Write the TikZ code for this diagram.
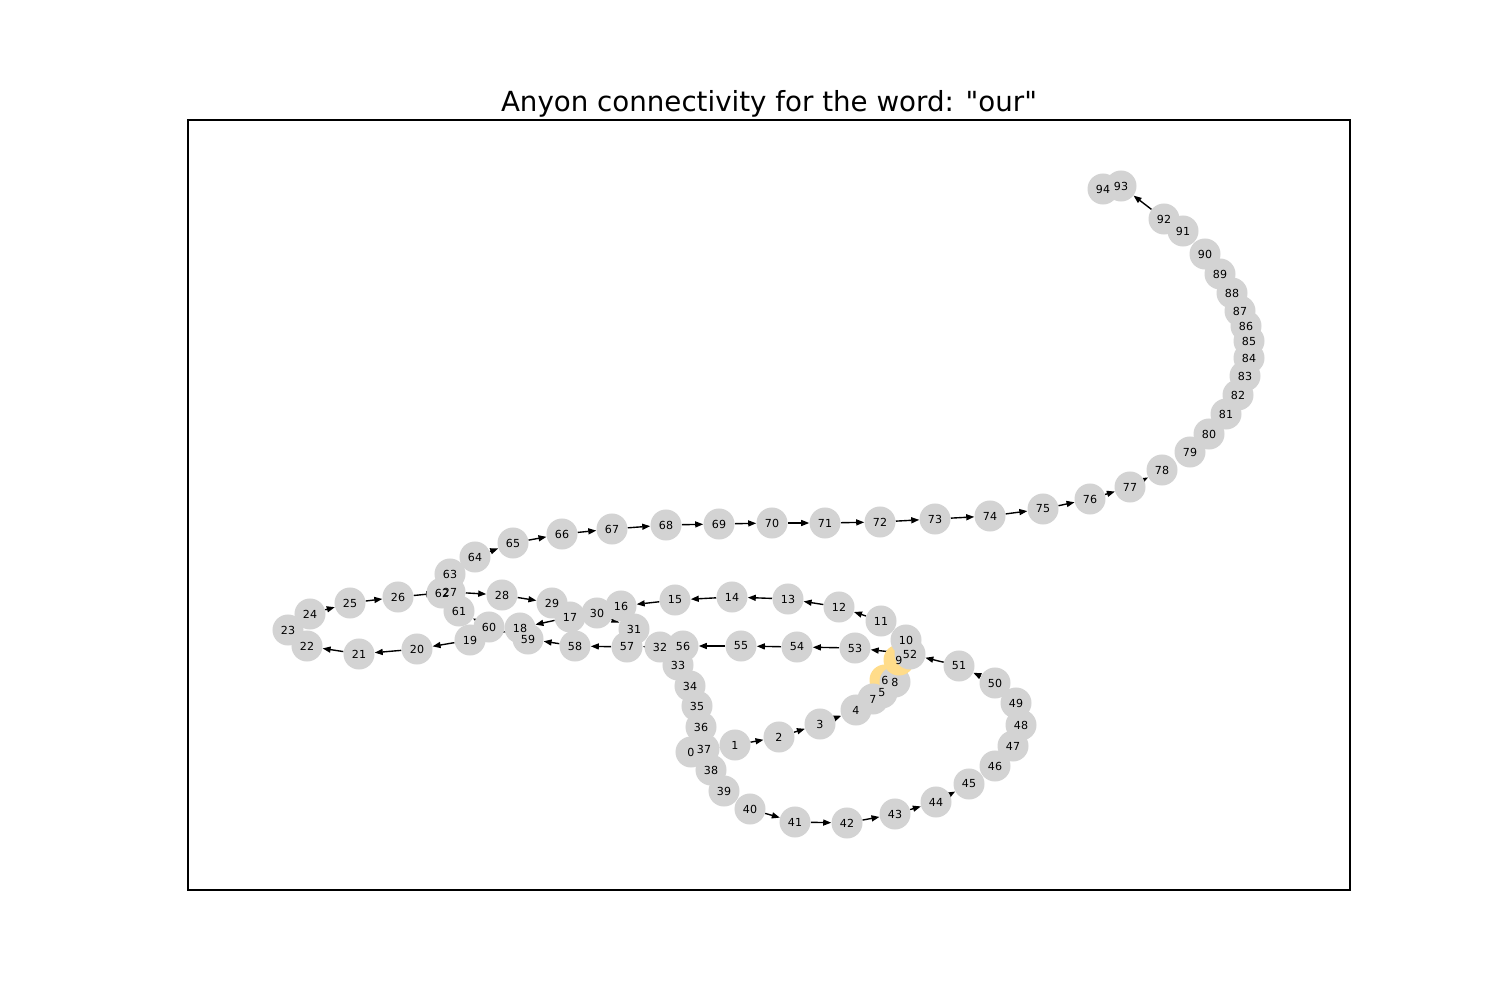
\documentclass[tikz,border=0pt]{standalone}
\usepackage{fontspec}
\setmainfont{DejaVu Sans}[Ligatures=TeXOff]
\usetikzlibrary{arrows.meta,backgrounds}
\definecolor{nodegray}{RGB}{211,211,211}
\definecolor{nodeyellow}{RGB}{255,220,138}
\tikzset{
  gnode/.style={circle,fill=nodegray,draw=none,inner sep=0pt,minimum size=0.31in},
  ynode/.style={gnode,fill=nodeyellow},
  lab/.style={inner sep=0pt,font=\fontsize{8}{9.6}\selectfont},
  edge/.style={line width=1pt,-{Triangle[length=0.08in,width=0.06in]}},
}
\begin{document}
\begin{tikzpicture}[x=0.01in,y=-0.01in]
\useasboundingbox (0,0) rectangle (1500,1000);
\node[anchor=base] (title) at (769,112) {\fontsize{20}{24}\selectfont Anyon connectivity for the word: "our"};
\draw[line width=0.8pt] (188,120) rectangle (1350,890);
% nodes in index order (6 and 9 highlighted)
\foreach \i/\x/\y in {0/691/752,1/735/745,2/779/737,3/820/724,4/856/710,5/882/693,6/885/680,7/873/699,8/895/682,9/899/660,
10/906/640,11/881/621,12/839/607,13/788/599,14/732/597,15/675/600,16/621/606,17/570/617,18/520/628,19/470/640,
20/417/649,21/359/654,22/307/646,23/288/630,24/310/614,25/350/603,26/398/597,27/450/592,28/502/595,29/552/603,
30/597/613,31/634/629,32/660/647,33/678/665,34/690/686,35/697/706,36/701/727,37/704/749,38/711/770,39/724/791,
40/750/809,41/795/822,42/847/823,43/895/814,44/936/802,45/969/784,46/995/766,47/1013/746,48/1021/725,49/1016/703,
50/995/683,51/959/666,52/910/654,53/855/648,54/797/647,55/741/646,56/683/646,57/627/647,58/575/646,59/528/639,
60/489/627,61/459/611,62/442/593,63/450/574,64/475/557,65/513/543,66/562/534,67/612/529,68/666/525,69/719/524,
70/772/523,71/825/523,72/880/522,73/935/519,74/990/516,75/1043/509,76/1090/499,77/1130/487,78/1162/470,79/1190/452,
80/1209/434,81/1226/414,82/1238/395,83/1245/376,84/1249/358,85/1249/341,86/1246/326,87/1240/311,88/1232/293,89/1220/274,
90/1205/254,91/1183/231,92/1164/219,93/1121/186,94/1103/189}
{
  \ifnum\i=6 \node[ynode] (n\i) at (\x,\y) {};
  \else\ifnum\i=9 \node[ynode] (n\i) at (\x,\y) {};
  \else \node[gnode] (n\i) at (\x,\y) {};
  \fi\fi
}
% edges behind the nodes
\begin{pgfonlayer}{background}
\foreach \a/\b in {0/1,1/2,2/3,3/4,11/12,12/13,13/14,14/15,15/16,16/17,17/18,18/19,19/20,20/21,21/22,
24/25,25/26,26/27,27/28,28/29,29/30,30/31,40/41,41/42,42/43,43/44,44/45,
50/51,51/52,52/53,53/54,54/55,55/56,56/57,57/58,58/59,59/60,60/61,
64/65,65/66,66/67,67/68,68/69,69/70,70/71,71/72,72/73,73/74,74/75,75/76,76/77,77/78,92/93}
  \draw[edge] (n\a) -- (n\b);
\end{pgfonlayer}
% labels on top
\foreach \i in {0,...,94}
  \node[lab] (l\i) at (n\i) {\i};
\end{tikzpicture}
\end{document}
